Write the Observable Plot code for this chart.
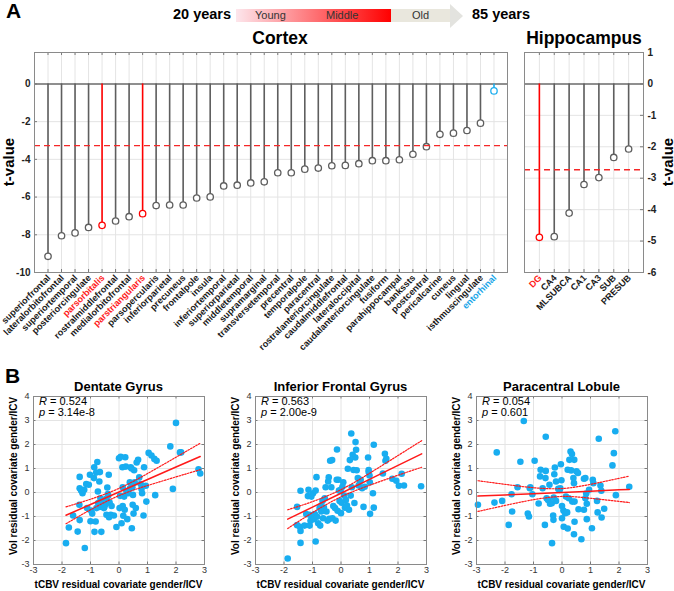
<!DOCTYPE html>
<html><head><meta charset="utf-8">
<script src="https://cdn.jsdelivr.net/npm/d3@7"></script>
<script src="https://cdn.jsdelivr.net/npm/@observablehq/plot@0.6"></script>
<style>
body{margin:0;background:#fff;}
#root{position:relative;width:674px;height:591px;overflow:hidden;font-family:"Liberation Sans",Arial,sans-serif;background:#fff;}
.abs{position:absolute;white-space:nowrap;line-height:1;}
.pl{position:absolute;}
.pl svg{overflow:visible;background:transparent;}
</style></head><body><div id="root"></div>
<script>
// ---------------- DATA ----------------
const cortexRegions = ["superiorfrontal","lateralorbitofrontal","superiortemporal","posteriorcingulate","parsorbitalis","rostralmiddlefrontal","medialorbitofrontal","parstriangularis","parsopercularis","inferiorparietal","precuneus","frontalpole","insula","inferiortemporal","superiorparietal","middletemporal","supramarginal","transversetemporal","precentral","temporalpole","paracentral","rostralanteriorcingulate","caudalmiddlefrontal","lateraloccipital","caudalanteriorcingulate","fusiform","parahippocampal","bankssts","postcentral","pericalcarine","cuneus","lingual","isthmuscingulate","entorhinal"];
const cortexT = [-9.14,-8.05,-7.9,-7.61,-7.5,-7.27,-7.04,-6.88,-6.45,-6.42,-6.42,-6.05,-5.99,-5.41,-5.37,-5.25,-5.19,-4.71,-4.71,-4.52,-4.46,-4.34,-4.32,-4.23,-4.07,-4.07,-4.02,-3.73,-3.33,-2.67,-2.61,-2.47,-2.08,-0.37];
const cortexRed = ["parsorbitalis","parstriangularis"];
const cortexBlue = ["entorhinal"];
const cortexThreshold = -3.27;
const cortexYTicks = [0,-2,-4,-6,-8,-10];

const hippoRegions = ["DG","CA4","MLSUBCA","CA1","CA3","SUB","PRESUB"];
const hippoT = [-4.88,-4.86,-4.11,-3.2,-2.98,-2.34,-2.07];
const hippoRed = ["DG"];
const hippoThreshold = -2.73;
const hippoYTicks = [1,0,-1,-2,-3,-4,-5,-6];

const panelTitles = ["Dentate Gyrus","Inferior Frontal Gyrus","Paracentral Lobule"];
const statR = ["0.524","0.563","0.054"];
const statP = ["3.14e-8","2.00e-9","0.601"];
const scatterXTicks = [-3,-2,-1,0,1,2,3];
const scatterYTicks = [-3,-2,-1,0,1,2,3,4];

const dgX = [-1.86,-1.76,-1.61,-1.45,-1.39,-1.38,-1.38,-1.38,-1.33,-1.28,-1.22,-1.2,-1.15,-1.12,-1.06,-1.02,-1,-0.98,-0.94,-0.88,-0.87,-0.86,-0.82,-0.8,-0.79,-0.76,-0.74,-0.73,-0.69,-0.67,-0.68,-0.65,-0.62,-0.59,-0.56,-0.53,-0.51,-0.47,-0.45,-0.44,-0.41,-0.39,-0.38,-0.36,-0.35,-0.33,-0.29,-0.26,-0.18,-0.09,0,0.02,0.04,0.06,0.09,0.12,0.13,0.13,0.15,0.18,0.2,0.22,0.24,0.26,0.29,0.33,0.38,0.39,0.41,0.44,0.45,0.47,0.48,0.49,0.51,0.53,0.55,0.59,0.62,0.67,0.71,0.76,0.79,0.81,0.86,0.88,0.94,0.96,1.04,1.14,1.24,1.27,1.32,1.8,1.89,2.0,2.14,2.18,2.79,2.85];
const dgY = [-2.11,-1.46,-0.96,-1.63,-0.51,-1.15,0.65,0.18,0.08,-0.03,0.11,-2.31,0.35,-0.65,0.32,0.74,-1.2,-0.75,-0.88,0.6,1.05,-1.64,-1.21,0.83,-0.65,1.27,0.04,-0.44,0.46,0.85,-0.6,-0.24,-1.64,-0.33,-0.54,-0.65,-0.6,-0.49,-0.26,-0.93,0.21,-0.06,-0.14,0.74,-1.03,-0.42,-0.93,-0.56,-0.96,-1.44,1.43,-0.65,-0.14,1.49,-1.28,1.05,0.22,-0.56,-0.97,-0.17,-0.72,1.47,1.08,0.04,-1.11,-0.03,0.42,0.18,1.05,1.0,-1.49,0.22,-0.51,-0.1,-0.88,0.93,0.42,-0.65,1.25,1.36,0.63,0.35,0.15,-0.03,-0.96,1.05,0.28,-0.38,1.65,1.54,1.4,-0.11,1.32,1.92,0.15,2.9,1.67,1.67,0.97,0.79];
const dgFitX = [-1.86,-1,0,1,2,2.85];
const dgFitY = [-0.95,-0.5,0.02,0.54,1.06,1.5];
const dgUpper = [-0.6,-0.28,0.17,0.79,1.47,2.05];
const dgLower = [-1.3,-0.72,-0.13,0.29,0.65,0.95];

const ifgX = [-1.87,-1.54,-1.54,-1.44,-1.42,-1.42,-1.42,-1.28,-1.22,-1.16,-1.14,-1.1,-1.1,-1.07,-1.04,-1.02,-0.98,-0.95,-0.92,-0.89,-0.89,-0.86,-0.84,-0.8,-0.75,-0.73,-0.71,-0.69,-0.65,-0.63,-0.6,-0.57,-0.54,-0.51,-0.47,-0.45,-0.43,-0.41,-0.38,-0.34,-0.31,-0.3,-0.27,-0.21,-0.19,-0.15,-0.14,-0.12,-0.09,-0.07,-0.05,-0.01,0,0.02,0.05,0.08,0.11,0.14,0.17,0.21,0.24,0.28,0.31,0.34,0.36,0.38,0.41,0.44,0.47,0.5,0.51,0.53,0.55,0.59,0.62,0.66,0.69,0.74,0.79,0.83,0.95,0.97,0.97,1.0,1.01,1.02,1.12,1.15,1.15,1.47,1.54,1.56,1.59,1.8,1.94,2.03,2.13,2.21,2.81];
const ifgY = [-2.75,-1.36,-0.6,-1.43,0.07,-1.6,-2.1,-1.38,-0.9,-0.15,0.11,-0.93,-1.38,-1.18,-0.17,-1.0,-0.03,-1.11,-0.9,0.08,-2.04,0.64,-1.01,-1.28,-0.65,-1.38,-0.58,-0.79,-0.35,-1.07,-0.63,-0.24,0.22,-0.79,-1.17,0.46,0.63,-1.1,1.32,0.22,1.35,-1.07,-0.56,-0.65,-1.17,0.53,1.79,-0.76,0.53,0.08,-0.35,0.11,-0.86,-0.43,0.24,0.43,-0.13,-0.63,-0.31,-0.54,0.99,-0.72,1.35,-0.13,2.46,0.22,1.57,0.94,-0.44,1.46,2.1,1.78,0.93,0.6,0.29,0.46,0.53,0.18,-0.6,0.24,1.46,0.94,0.85,0.71,0.43,-0.89,-0.03,1.99,-0.63,0.79,1.61,1.32,1.4,0.57,0.49,0.28,0.78,0.29,0.26];
const ifgFitX = [-1.87,-1,0,1,2,2.83];
const ifgFitY = [-1.11,-0.61,-0.03,0.55,1.13,1.61];
const ifgUpper = [-0.72,-0.38,0.12,0.8,1.54,2.16];
const ifgLower = [-1.5,-0.84,-0.18,0.3,0.72,1.05];

const pclX = [-2.95,-2.37,-2.29,-2.1,-1.87,-1.77,-1.75,-1.56,-1.46,-1.34,-1.2,-1.16,-1.13,-1.11,-1.04,-0.96,-0.82,-0.77,-0.75,-0.68,-0.6,-0.57,-0.57,-0.58,-0.54,-0.49,-0.44,-0.42,-0.36,-0.35,-0.31,-0.3,-0.29,-0.27,-0.25,-0.21,-0.21,-0.13,-0.08,-0.06,-0.04,-0.02,0,0,0.05,0.06,0.11,0.14,0.18,0.2,0.2,0.24,0.26,0.3,0.32,0.35,0.36,0.4,0.42,0.43,0.44,0.44,0.42,0.51,0.56,0.58,0.68,0.77,0.77,0.82,0.82,0.85,0.87,0.87,0.95,1.05,1.08,1.1,1.23,1.25,1.29,1.35,1.38,1.39,1.48,1.77,1.82,1.87,1.89,2.36];
const pclY = [-0.51,-0.42,1.67,-0.35,-1.35,-0.07,-0.79,0.22,1.28,2.98,-0.88,-1.0,0.18,0.22,-0.07,1.32,-0.46,0.67,0.95,0.18,-1.35,2.32,0.9,0.6,-0.24,-0.31,0.32,-0.47,-0.45,-2.11,-0.96,-1.14,-0.21,0.76,1.04,0.46,-0.35,0.15,0.11,0.18,1.18,0.51,-0.56,-1.07,-0.75,-1.43,-0.86,-0.17,-0.83,-1.5,0.95,-0.24,1.36,1.71,0.92,1.6,-0.38,0.6,0.39,1.36,-0.38,-1.22,-1.74,0.88,0.81,-0.7,-1.95,-0.72,0.57,0.6,-0.24,-0.04,-0.47,-1.11,0.11,-1.49,0.53,0.39,-0.35,-0.83,2.24,0.29,0.07,-1.04,-0.68,1.13,1.64,2.55,-0.11,0.24];
const pclFitX = [-2.95,-2,-1,0,1,2,2.36];
const pclFitY = [-0.15,-0.1,-0.05,0,0.05,0.11,0.13];
const pclUpper = [0.49,0.34,0.2,0.165,0.34,0.59,0.68];
const pclLower = [-0.79,-0.54,-0.3,-0.165,-0.24,-0.37,-0.42];

// ---------------- HELPERS ----------------
const root = document.getElementById("root");
const FONT = "'Liberation Sans', Arial, sans-serif";
function txt(html, {x, y, size = 12, weight = "normal", anchor = "start", color = "#000", rotate = false}) {
  const d = document.createElement("div");
  d.className = "abs";
  d.innerHTML = html;
  d.style.fontSize = size + "px";
  d.style.fontWeight = weight;
  d.style.color = color;
  if (rotate) {
    d.style.left = x + "px"; d.style.top = y + "px";
    d.style.transform = "translate(-50%,-50%) rotate(-90deg)";
  } else {
    d.style.left = x + "px";
    d.style.top = (y - 0.8465 * size) + "px";
    if (anchor === "middle") d.style.transform = "translateX(-50%)";
    if (anchor === "end") d.style.transform = "translateX(-100%)";
  }
  root.appendChild(d);
  return d;
}
function place(node, left, top) {
  const w = document.createElement("div");
  w.className = "pl"; w.style.left = left + "px"; w.style.top = top + "px";
  w.appendChild(node); root.appendChild(w);
}
function box(left, top, w, h, css) {
  const d = document.createElement("div");
  d.className = "abs";
  Object.assign(d.style, {left: left + "px", top: top + "px", width: w + "px", height: h + "px"}, css);
  root.appendChild(d);
  return d;
}

const GRAY = "#5e5e5e", RED = "#ff0000", BLUE = "#1eaeee";
const GRID = "#e4e4e4", FRAME = "#8a8a8a", TICK = "#7a7a7a";

// inward tick marks on the frame (length in pixels converted through the domain)
function frameTicks(xTicks, yTicks, xDom, yDom, innerW, innerH, len, sides) {
  const ty = (yDom[1] - yDom[0]) * len / innerH;
  const tx = (xDom[1] - xDom[0]) * len / innerW;
  const m = [];
  if (sides.includes("b")) m.push(Plot.ruleX(xTicks, {x: d => d, y1: () => yDom[0], y2: () => yDom[0] + ty, stroke: TICK}));
  if (sides.includes("t")) m.push(Plot.ruleX(xTicks, {x: d => d, y1: () => yDom[1], y2: () => yDom[1] - ty, stroke: TICK}));
  if (sides.includes("l")) m.push(Plot.ruleY(yTicks, {y: d => d, x1: () => xDom[0], x2: () => xDom[0] + tx, stroke: TICK}));
  if (sides.includes("r")) m.push(Plot.ruleY(yTicks, {y: d => d, x1: () => xDom[1], x2: () => xDom[1] - tx, stroke: TICK}));
  return m;
}

// ---------------- HEADER ----------------
txt("A", {x: 6, y: 18, size: 21, weight: "bold"});
txt("20 years", {x: 173, y: 19, size: 14.5, weight: "bold"});
box(236, 9, 155, 13, {background: "linear-gradient(to right, #fde6ec, #ff0000)"});
box(391, 9, 59, 13, {background: "#e9e7dd"});
box(450, 3.5, 0, 0, {borderLeft: "13px solid #e3e3df", borderTop: "12px solid transparent", borderBottom: "12px solid transparent"});
txt("Young", {x: 255, y: 19.5, size: 11, color: "#333"});
txt("Middle", {x: 326, y: 19.5, size: 11, color: "#333"});
txt("Old", {x: 412, y: 19.5, size: 11, color: "#333"});
txt("85 years", {x: 472, y: 19, size: 14.5, weight: "bold"});

txt("Cortex", {x: 280, y: 45, size: 17.5, weight: "bold", anchor: "middle"});
txt("Hippocampus", {x: 584, y: 45, size: 17.5, weight: "bold", anchor: "middle"});
txt("t-value", {x: 8, y: 162, size: 15, weight: "bold", rotate: true});
txt("t-value", {x: 667, y: 162, size: 15, weight: "bold", rotate: true});

// ---------------- LOLLIPOPS ----------------
function lollipop({names, values, reds, blues, threshold, yDomain, yTicks, yGrid, width, mL, mR, side}) {
  const data = names.map((name, k) => ({
    name, i: k + 1, t: values[k],
    color: reds.includes(name) ? RED : blues.includes(name) ? BLUE : GRAY,
    label: reds.includes(name) ? "#ff1a1a" : blues.includes(name) ? "#19a6e8" : "#1a1a1a"
  }));
  const idx = data.map(d => d.i);
  const xDom = [0, names.length + 1];
  const innerW = width - mL - mR, innerH = 220;
  return Plot.plot({
    width, height: 320, marginLeft: mL, marginRight: mR, marginTop: 12, marginBottom: 88,
    x: {domain: xDom, axis: null},
    y: {domain: yDomain, axis: null},
    color: {type: "identity"},
    style: {background: "transparent", overflow: "visible", fontFamily: FONT},
    marks: [
      Plot.ruleX(idx, {x: d => d, stroke: GRID}),
      Plot.ruleY(yGrid, {y: d => d, stroke: GRID}),
      Plot.ruleY([0], {y: d => d, stroke: "#6a6a6a", strokeWidth: 1.5}),
      Plot.ruleX(data, {x: "i", y1: () => 0, y2: "t", stroke: d => d.color, strokeWidth: 1.6}),
      Plot.dot(data, {x: "i", y: "t", stroke: d => d.color, fill: "white", r: 3.2, strokeWidth: 1.3}),
      Plot.ruleY([threshold], {y: d => d, stroke: "#f52828", strokeWidth: 1.4, strokeDasharray: "6,4"}),
      ...frameTicks(idx, yTicks, xDom, yDomain, innerW, innerH, 3, side === "left" ? "btl" : "btr"),
      Plot.frame({stroke: FRAME}),
      Plot.text(yTicks, {y: d => d, text: d => String(d), frameAnchor: side,
        dx: side === "left" ? -4 : 4, textAnchor: side === "left" ? "end" : "start",
        fontWeight: "bold", fontSize: 10, fill: "#222"}),
      Plot.text(data, {x: "i", text: "name", frameAnchor: "bottom", rotate: -45, textAnchor: "end",
        dx: 3, dy: 6, fill: d => d.label, fontWeight: "bold", fontSize: 9.1})
    ]
  });
}

place(lollipop({names: cortexRegions, values: cortexT, reds: cortexRed, blues: cortexBlue,
  threshold: cortexThreshold, yDomain: [-10, 10 / 6], yTicks: cortexYTicks, yGrid: [-2, -4, -6, -8],
  width: 520, mL: 34, mR: 13, side: "left"}), 0, 40);

place(lollipop({names: hippoRegions, values: hippoT, reds: hippoRed, blues: [],
  threshold: hippoThreshold, yDomain: [-6, 1], yTicks: hippoYTicks, yGrid: [-1, -2, -3, -4, -5],
  width: 159, mL: 9, mR: 31, side: "right"}), 515, 40);

// ---------------- SCATTERS ----------------
txt("B", {x: 5, y: 383, size: 21, weight: "bold"});
const panels = [
  {xs: dgX, ys: dgY, fx: dgFitX, fy: dgFitY, up: dgUpper, lo: dgLower, left: 33},
  {xs: ifgX, ys: ifgY, fx: ifgFitX, fy: ifgFitY, up: ifgUpper, lo: ifgLower, left: 255},
  {xs: pclX, ys: pclY, fx: pclFitX, fy: pclFitY, up: pclUpper, lo: pclLower, left: 476}
];
panels.forEach((p, k) => {
  const pts = p.xs.map((x, j) => ({x, y: p.ys[j]}));
  const fit = p.fx.map((x, j) => ({x, y: p.fy[j], up: p.up[j], lo: p.lo[j]}));
  const W = 171, H = 168;
  const chart = Plot.plot({
    width: W + 33 + 18, height: 200, marginLeft: 33, marginRight: 18, marginTop: 6, marginBottom: 26,
    x: {domain: [-3, 3], axis: null},
    y: {domain: [-3, 4], axis: null},
    style: {background: "transparent", overflow: "visible", fontFamily: FONT},
    marks: [
      Plot.ruleX(scatterXTicks, {x: d => d, stroke: GRID}),
      Plot.ruleY(scatterYTicks, {y: d => d, stroke: GRID}),
      Plot.dot(pts, {x: "x", y: "y", r: 3.3, fill: "#18adf0"}),
      Plot.line(fit, {x: "x", y: "up", stroke: "#ff1a1a", strokeWidth: 1.2, strokeDasharray: "1.6,1.4", curve: "natural"}),
      Plot.line(fit, {x: "x", y: "lo", stroke: "#ff1a1a", strokeWidth: 1.2, strokeDasharray: "1.6,1.4", curve: "natural"}),
      Plot.line(fit, {x: "x", y: "y", stroke: "#ff1a1a", strokeWidth: 1.5}),
      ...frameTicks(scatterXTicks, scatterYTicks, [-3, 3], [-3, 4], W, H, 2.5, "btlr"),
      Plot.frame({stroke: FRAME}),
      Plot.text(scatterXTicks, {x: d => d, text: d => String(d), frameAnchor: "bottom", dy: 8, fontSize: 9, fill: "#333"}),
      Plot.text(scatterYTicks, {y: d => d, text: d => String(d), frameAnchor: "left", dx: -4, textAnchor: "end", fontSize: 9, fill: "#333"})
    ]
  });
  place(chart, p.left - 33, 390);
  const cx = p.left + W / 2;
  txt(panelTitles[k], {x: cx, y: 391, size: 13, weight: "bold", anchor: "middle"});
  txt("tCBV residual covariate gender/ICV", {x: cx, y: 588, size: 10, weight: "bold", anchor: "middle"});
  txt("Vol residual covariate gender/ICV", {x: p.left - 19, y: 476, size: 10, weight: "bold", rotate: true});
  txt("<i>R</i> = " + statR[k], {x: p.left + 6, y: 405, size: 11});
  txt("<i>p</i> = " + statP[k], {x: p.left + 6, y: 416, size: 11});
});
</script></body></html>
